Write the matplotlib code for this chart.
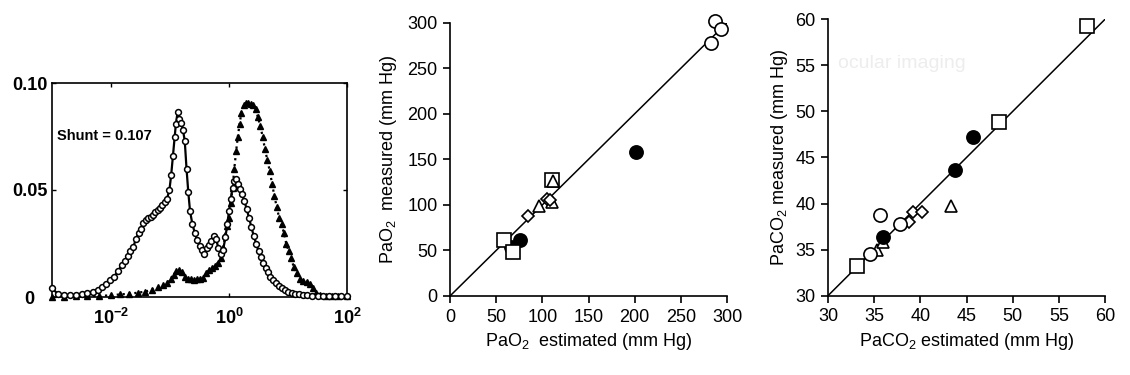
import numpy as np
import matplotlib
matplotlib.use("Agg")
import matplotlib.pyplot as plt

plt.rcParams['font.family'] = ['Liberation Sans', 'DejaVu Sans']
plt.rcParams['mathtext.fontset'] = 'custom'
plt.rcParams['mathtext.rm'] = 'Liberation Sans'
plt.rcParams['mathtext.bf'] = 'Liberation Sans:bold'
plt.rcParams['mathtext.default'] = 'regular'

# panel 1: distributions (log10 of ratio, fraction)
circ_logx = [-3.00, -2.90, -2.80, -2.70, -2.60, -2.50, -2.40, -2.30, -2.22, -2.15,
             -2.08, -2.02, -1.95, -1.88, -1.82, -1.77, -1.72, -1.67, -1.62, -1.58,
             -1.53, -1.49, -1.45, -1.41, -1.37, -1.33, -1.29, -1.25, -1.21, -1.17,
             -1.13, -1.09, -1.05, -1.01, -0.98, -0.95, -0.92, -0.90, -0.87, -0.84,
             -0.81, -0.78, -0.75, -0.72, -0.69, -0.66, -0.62, -0.58, -0.54, -0.50,
             -0.46, -0.42, -0.38, -0.34, -0.30, -0.26, -0.22, -0.18, -0.14, -0.10,
             -0.06, -0.03, 0.00, 0.03, 0.06, 0.09, 0.12, 0.15, 0.18, 0.22,
             0.26, 0.30, 0.34, 0.38, 0.42, 0.46, 0.50, 0.54, 0.58, 0.62,
             0.66, 0.70, 0.75, 0.80, 0.85, 0.90, 0.95, 1.00, 1.06, 1.12,
             1.18, 1.25, 1.32, 1.40, 1.50, 1.60, 1.70, 1.80, 1.90, 2.00]
circ_y = [0.0040, 0.0015, 0.0010, 0.0008, 0.0010, 0.0012, 0.0018, 0.0025, 0.0035, 0.0045,
          0.0060, 0.0080, 0.0095, 0.0120, 0.0150, 0.0170, 0.0190, 0.0215, 0.0235, 0.0270,
          0.0300, 0.0320, 0.0345, 0.0360, 0.0370, 0.0375, 0.0385, 0.0395, 0.0405, 0.0415,
          0.0430, 0.0445, 0.0460, 0.0500, 0.0570, 0.0660, 0.0750, 0.0810, 0.0865, 0.0830,
          0.0815, 0.0780, 0.0730, 0.0600, 0.0490, 0.0400, 0.0340, 0.0300, 0.0265, 0.0240,
          0.0220, 0.0200, 0.0230, 0.0245, 0.0260, 0.0285, 0.0270, 0.0230, 0.0200, 0.0220,
          0.0280, 0.0340, 0.0400, 0.0460, 0.0510, 0.0540, 0.0550, 0.0530, 0.0505, 0.0480,
          0.0450, 0.0410, 0.0370, 0.0325, 0.0285, 0.0250, 0.0215, 0.0185, 0.0160, 0.0135,
          0.0115, 0.0095, 0.0080, 0.0065, 0.0050, 0.0040, 0.0032, 0.0025, 0.0018, 0.0014,
          0.0012, 0.0010, 0.0008, 0.0007, 0.0006, 0.0005, 0.0004, 0.0003, 0.0003, 0.0003]

tri_logx = [-3.00, -2.80, -2.60, -2.40, -2.20, -2.00, -1.85, -1.70, -1.55, -1.42,
            -1.30, -1.20, -1.12, -1.05, -0.99, -0.94, -0.89, -0.84, -0.79, -0.74,
            -0.69, -0.64, -0.59, -0.54, -0.49, -0.44, -0.39, -0.34, -0.29, -0.24,
            -0.19, -0.14, -0.10, -0.06, -0.03, 0.00, 0.03, 0.06, 0.09, 0.12,
            0.15, 0.18, 0.21, 0.25, 0.29, 0.33, 0.37, 0.41, 0.45, 0.49,
            0.53, 0.57, 0.61, 0.65, 0.69, 0.73, 0.77, 0.81, 0.85, 0.89,
            0.93, 0.97, 1.01, 1.05, 1.10, 1.15, 1.20, 1.26, 1.32, 1.38,
            1.43, 1.48, 1.55, 1.65, 1.75, 1.85, 2.00]
tri_y = [0.0000, 0.0002, 0.0003, 0.0004, 0.0005, 0.0008, 0.0012, 0.0015, 0.0020, 0.0025,
         0.0035, 0.0045, 0.0055, 0.0065, 0.0085, 0.0105, 0.0120, 0.0125, 0.0115, 0.0095,
         0.0085, 0.0082, 0.0080, 0.0082, 0.0085, 0.0090, 0.0110, 0.0125, 0.0135, 0.0145,
         0.0160, 0.0180, 0.0230, 0.0290, 0.0330, 0.0370, 0.0440, 0.0510, 0.0600, 0.0680,
         0.0750, 0.0810, 0.0860, 0.0895, 0.0905, 0.0905, 0.0900, 0.0895, 0.0880, 0.0840,
         0.0800, 0.0750, 0.0690, 0.0640, 0.0590, 0.0530, 0.0470, 0.0420, 0.0370, 0.0340,
         0.0300, 0.0250, 0.0215, 0.0180, 0.0140, 0.0110, 0.0085, 0.0075, 0.0070, 0.0060,
         0.0040, 0.0020, 0.0010, 0.0007, 0.0006, 0.0005, 0.0005]

# panel 2: PaO2 (estimated, measured)
pao2_open_circle = ([287, 294, 283], [302, 293, 278])
pao2_filled_circle = ([201, 76, 66], [158, 61, 54])
pao2_square = ([59, 68, 111], [62, 48, 127])
pao2_triangle = ([112, 96, 110], [126, 99, 103])
pao2_diamond = ([85, 105, 108], [88, 107, 105])

# panel 3: PaCO2 (estimated, measured)
paco2_square = ([58.0, 48.5, 33.1], [59.3, 48.9, 33.2])
paco2_filled_circle = ([45.7, 43.8, 36.0], [47.2, 43.6, 36.4])
paco2_open_circle = ([35.6, 37.8, 34.6], [38.8, 37.8, 34.5])
paco2_triangle = ([43.3, 35.3, 36.0], [39.7, 35.0, 35.8])
paco2_diamond = ([39.2, 40.2, 38.8], [39.1, 39.1, 38.0])

fig = plt.figure(figsize=(11.3, 3.75), dpi=100)

# ---- panel 1
ax1 = fig.add_axes([52/1130, 78/375, 295/1130, 214/375])
ax1.plot(10**np.array(tri_logx), tri_y, ':', color='black', lw=1.6,
         marker='^', ms=5, mfc='black', mec='black', clip_on=False, zorder=3)
ax1.plot(10**np.array(circ_logx), circ_y, '-', color='black', lw=1.6,
         marker='o', ms=4.2, mfc='white', mec='black', mew=1.1, clip_on=False, zorder=4)
ax1.set_xscale('log')
ax1.set_xlim(1e-3, 1e2)
ax1.set_ylim(0, 0.1)
ax1.set_xticks([1e-2, 1e0, 1e2])
ax1.set_xticklabels([r'$\mathbf{10^{-2}}$', r'$\mathbf{10^{0}}$', r'$\mathbf{10^{2}}$'])
ax1.xaxis.set_minor_locator(matplotlib.ticker.NullLocator())
ax1.set_yticks([0, 0.05, 0.1])
ax1.set_yticklabels(['0', '0.05', '0.10'], fontweight='bold', ha='center')
ax1.tick_params(direction='in', length=3, width=1, top=True, right=True,
                labelsize=13, pad=8)
ax1.tick_params(axis='y', pad=16)
for s in ax1.spines.values():
    s.set_linewidth(1.2)
ax1.text(0.018, 0.075, 'Shunt = 0.107', transform=ax1.get_yaxis_transform(),
         fontsize=10.5, fontweight='bold', va='center', ha='left')


def scatter_panel(ax, groups):
    for (xs, ys), kw in groups:
        ax.plot(xs, ys, linestyle='none', color='black', mew=1.2, clip_on=False,
                zorder=3, **kw)
    for side in ('top', 'right'):
        ax.spines[side].set_visible(False)
    for side in ('left', 'bottom'):
        ax.spines[side].set_linewidth(1.2)
    ax.tick_params(direction='out', length=5, width=1.2, labelsize=13, pad=4)


# ---- panel 2
ax2 = fig.add_axes([450/1130, 79/375, 277/1130, 273.3/375])
ax2.plot([0, 300], [0, 300], color='black', lw=1.1, zorder=2)
scatter_panel(ax2, [
    (pao2_open_circle, dict(marker='o', ms=9.5, mfc='white')),
    (pao2_filled_circle, dict(marker='o', ms=9.5, mfc='black')),
    (pao2_square, dict(marker='s', ms=9.5, mfc='white')),
    (pao2_triangle, dict(marker='^', ms=8.5, mfc='white')),
    (pao2_diamond, dict(marker='D', ms=6, mfc='white')),
])
ax2.set_xlim(0, 300)
ax2.set_ylim(0, 300)
ax2.set_xticks(range(0, 301, 50))
ax2.set_yticks(range(0, 301, 50))
ax2.set_xlabel('PaO$_2$  estimated (mm Hg)', fontsize=13, labelpad=4)
ax2.set_ylabel('PaO$_2$  measured (mm Hg)', fontsize=13, labelpad=6)

# ---- panel 3
# faint scanner watermark seen in the source image
fig.text(838/1130, 1 - 68/375, 'ocular imaging', fontsize=14, color='#ededed', zorder=0)
ax3 = fig.add_axes([828/1130, 79.3/375, 277/1130, 276.4/375])
ax3.patch.set_alpha(0)
ax3.plot([30, 60], [30, 60], color='black', lw=1.1, zorder=2)
scatter_panel(ax3, [
    (paco2_square, dict(marker='s', ms=9.5, mfc='white')),
    (paco2_triangle, dict(marker='^', ms=8.5, mfc='white')),
    (paco2_diamond, dict(marker='D', ms=6, mfc='white')),
    (paco2_open_circle, dict(marker='o', ms=9.5, mfc='white')),
    (paco2_filled_circle, dict(marker='o', ms=9.5, mfc='black')),
])
ax3.set_xlim(30, 60)
ax3.set_ylim(30, 60)
ax3.set_xticks(range(30, 61, 5))
ax3.set_yticks(range(30, 61, 5))
ax3.set_xlabel('PaCO$_2$ estimated (mm Hg)', fontsize=13, labelpad=4)
ax3.set_ylabel('PaCO$_2$ measured (mm Hg)', fontsize=13, labelpad=4)

fig.savefig('out.png', dpi=100)
